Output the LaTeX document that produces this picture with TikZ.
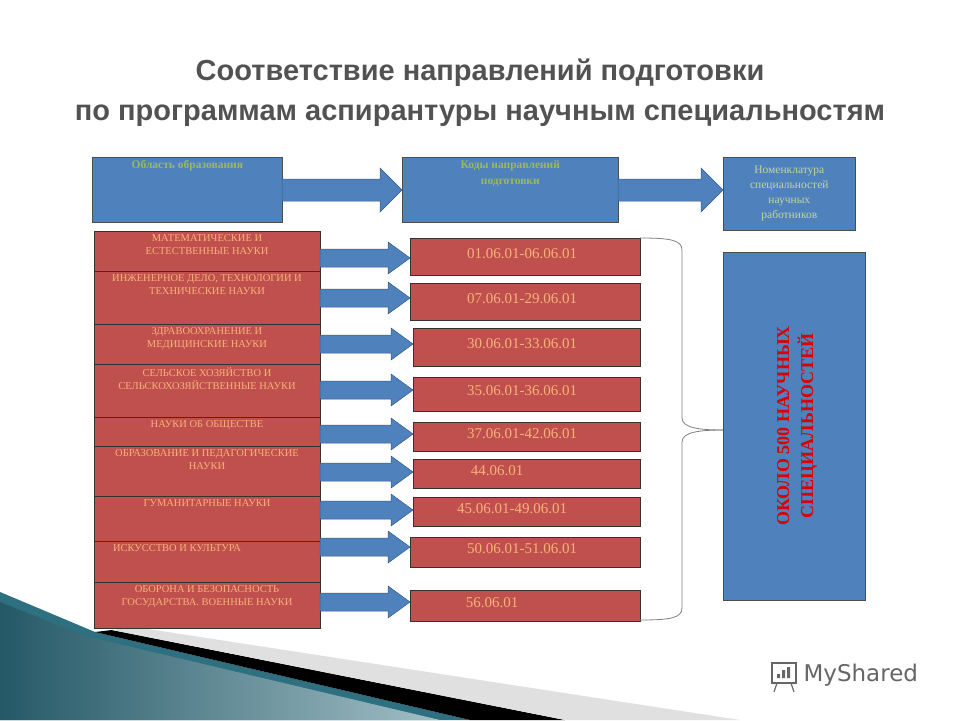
\documentclass[tikz,border=0pt]{standalone}
\usepackage{fontspec}
\setmainfont{Liberation Serif}
\newfontfamily\hsans{Liberation Sans}
\newfontfamily\dsans{DejaVu Sans}
\usetikzlibrary{calc}
\definecolor{bblue}{HTML}{4F81BD}
\definecolor{rred}{HTML}{C0504D}
\definecolor{otext}{HTML}{F7B27A}
\definecolor{gtext}{HTML}{9BBB59}
\definecolor{teal1}{HTML}{2E6F80}
\tikzset{
 bluebox/.style={draw=black!70,fill=bblue,line width=0.6pt,inner sep=2pt},
 redbox/.style={draw=black!80,fill=rred,line width=0.6pt},
 codebox/.style={draw=black!80,fill=rred,line width=0.6pt},
 fatarr/.style={fill=bblue,draw=bblue!70!black,line width=0.5pt},
}
% #1 x start, #2 x end, #3 y, #4 shaft half, #5 head half, #6 head length
\newcommand\myfatarrow[6]{%
 \path[fatarr] (#1,#3-#4) -- (#2-#6,#3-#4) -- (#2-#6,#3-#5) -- (#2,#3) -- (#2-#6,#3+#5) -- (#2-#6,#3+#4) -- (#1,#3+#4) -- cycle;}
\begin{document}
\begin{tikzpicture}[x=1pt,y=-1pt]
\useasboundingbox (0,0) rectangle (960,720);
\fill[white] (0,0) rectangle (960,720);
% decoration
\fill[teal1] (0,592) -- (95,632) -- (470,720) -- (0,720) -- cycle;
\shade[left color=teal1!80!black,right color=teal1!45!white] (0,602) -- (85,636) -- (440,720) -- (0,720) -- cycle;
\fill[black] (95,632) -- (112,630) -- (565,720) -- (470,720) -- cycle;
\fill[black!12] (112,630) -- (135,627) -- (740,720) -- (565,720) -- cycle;
% title
\node[font=\hsans\bfseries\fontsize{29}{40}\selectfont,text=black!68,align=center] (title) at (480,93)
 {Соответствие направлений подготовки\\по программам аспирантуры научным специальностям};
% top boxes
\node[bluebox,minimum width=190,minimum height=65,anchor=north west] (b1) at (92,157) {};
\node[text=gtext,font=\fontsize{11.5}{12}\selectfont\bfseries,anchor=north] at (b1.north) {Область образования};
\node[bluebox,minimum width=216,minimum height=65,anchor=north west] (b2) at (402,157) {};
\node[text=gtext,font=\fontsize{11.5}{16}\selectfont\bfseries,align=center,anchor=north] at (b2.north) {Коды направлений\\подготовки};
\node[bluebox,minimum width=132,minimum height=73,anchor=north west,text=gtext!60!white,font=\fontsize{11.5}{15}\selectfont,align=center] (b3) at (723,157) {Номенклатура\\специальностей\\научных\\работников};
\myfatarrow{282}{402}{190}{11}{22}{22}
\myfatarrow{618}{723}{190}{11}{22}{22}
% left boxes
\foreach \n/\t/\b/\txt in {
 l1/231/271/{МАТЕМАТИЧЕСКИЕ И\\ЕСТЕСТВЕННЫЕ НАУКИ},
 l2/271/324/{ИНЖЕНЕРНОЕ ДЕЛО, ТЕХНОЛОГИИ И\\ТЕХНИЧЕСКИЕ НАУКИ},
 l3/324/364/{ЗДРАВООХРАНЕНИЕ И\\МЕДИЦИНСКИЕ НАУКИ},
 l4/364/417/{СЕЛЬСКОЕ ХОЗЯЙСТВО И\\СЕЛЬСКОХОЗЯЙСТВЕННЫЕ НАУКИ},
 l5/417/446/{НАУКИ ОБ ОБЩЕСТВЕ},
 l6/446/496/{ОБРАЗОВАНИЕ И ПЕДАГОГИЧЕСКИЕ\\НАУКИ},
 l7/496/541/{ГУМАНИТАРНЫЕ НАУКИ},
 l8/541/582/{\hspace*{-60pt}ИСКУССТВО И КУЛЬТУРА},
 l9/582/628/{ОБОРОНА И БЕЗОПАСНОСТЬ\\ГОСУДАРСТВА. ВОЕННЫЕ НАУКИ}}{
 \path[redbox] (94,\t) rectangle (320,\b);
 \node[text=otext,font=\fontsize{10.5}{13}\selectfont,align=center,anchor=north,inner sep=0pt] (\n) at (207,\t+3) {\txt};
}
% code boxes
\foreach \n/\xl/\t/\b/\txt in {
 c1/410/238/275/{01.06.01-06.06.01},
 c2/410/283/320/{07.06.01-29.06.01},
 c3/413/328/366/{30.06.01-33.06.01},
 c4/413/377/411/{35.06.01-36.06.01},
 c5/413/422/451/{37.06.01-42.06.01},
 c6/413/459/488/{\hspace*{-50pt}44.06.01},
 c7/413/497/526/{\hspace*{-20pt}45.06.01-49.06.01},
 c8/410/537/567/{50.06.01-51.06.01},
 c9/410/590/621/{\hspace*{-60pt}56.06.01}}{
 \path[codebox] (\xl,\t) rectangle (640,\b);
 \node[text=otext,font=\fontsize{15}{16}\selectfont,inner sep=0pt] (\n) at (522,{(\t+\b)/2-3}) {\txt};
}
\foreach \y/\x in {258/410,298/410,344/413,390/413,434/413,472/413,510/413,547/410,602/410}{
 \myfatarrow{320}{\x}{\y}{9}{16}{22}
}
% brace
\draw[gray,line width=0.8pt] (640,238) .. controls (670,238) and (682,240) .. (682,250) -- (682,418) .. controls (682,428) and (700,430) .. (723,430);
\draw[gray,line width=0.8pt] (723,430) .. controls (700,430) and (682,432) .. (682,442) -- (682,608) .. controls (682,618) and (670,620) .. (640,620);
% right box
\node[bluebox,minimum width=142,minimum height=348,anchor=north west] (big) at (723,252) {};
\node[rotate=90,text=red!85!black,font=\fontsize{18}{24}\selectfont\bfseries,align=center] (bigt) at (797,426) {ОКОЛО 500 НАУЧНЫХ\\СПЕЦИАЛЬНОСТЕЙ};
% logo
\node[font=\dsans\fontsize{23}{24}\selectfont,text=black!60,anchor=west] (logo) at (800,675) {MyShared};
\draw[black!60,line width=1.2pt] (772,663) rectangle (796,683);
\fill[black!60] (777,678) rectangle (780,674) (782,678) rectangle (785,670) (787,678) rectangle (790,667);
\draw[black!60,line width=1.2pt] (777,683) -- (774,692) (791,683) -- (794,692);
\end{tikzpicture}
\end{document}
